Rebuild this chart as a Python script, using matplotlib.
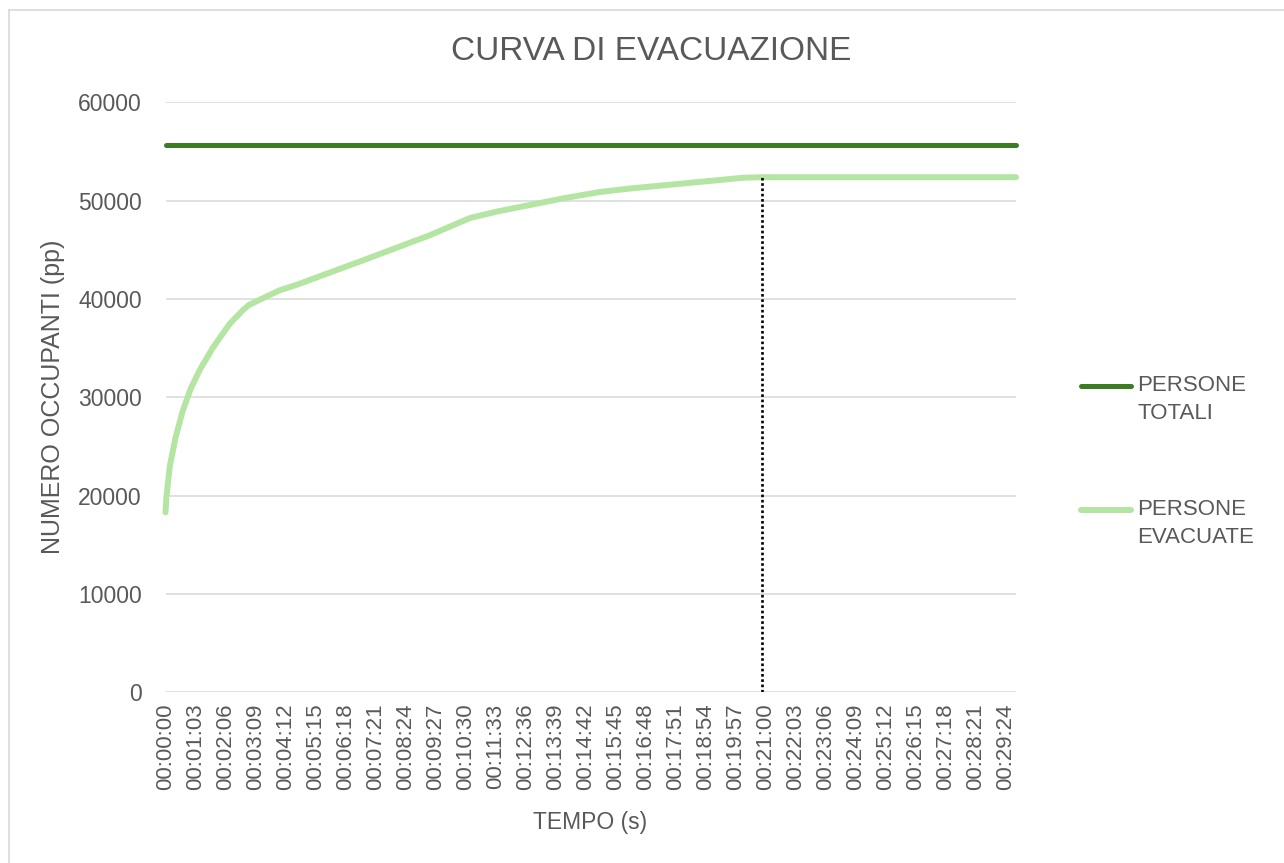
import matplotlib
matplotlib.use("Agg")
import matplotlib.pyplot as plt
from matplotlib.lines import Line2D

# evacuation curve, time in seconds
tempo_s = [0, 2, 9, 21, 36, 53, 72, 100, 135, 163, 175, 205, 240, 275,
           415, 555, 639, 695, 835, 912, 975, 1214, 1251, 1785]
persone_evacuate = [18300, 19900, 23000, 25900, 28600, 30900, 32800, 35100,
                    37500, 38900, 39400, 40100, 40900, 41450, 43950, 46500,
                    48250, 48900, 50250, 50900, 51250, 52350, 52400, 52400]
persone_totali = 55700
t_fine_evacuazione = 1251

tick_secondi = list(range(0, 1785, 63))
tick_labels = ["00:00:00", "00:01:03", "00:02:06", "00:03:09", "00:04:12",
               "00:05:15", "00:06:18", "00:07:21", "00:08:24", "00:09:27",
               "00:10:30", "00:11:33", "00:12:36", "00:13:39", "00:14:42",
               "00:15:45", "00:16:48", "00:17:51", "00:18:54", "00:19:57",
               "00:21:00", "00:22:03", "00:23:06", "00:24:09", "00:25:12",
               "00:26:15", "00:27:18", "00:28:21", "00:29:24"]

GRAY = "#595959"
DARK = "#3A7D22"
LIGHT = "#B4E5A2"

plt.rcParams["font.family"] = ["Liberation Sans", "DejaVu Sans"]

W, H = 1284, 863
fig = plt.figure(figsize=(W / 100, H / 100), dpi=100)
ax = fig.add_axes([165.5 / W, 1 - 692.3 / H, (1016 - 165.5) / W, (692.3 - 102.5) / H])

ax.plot([tempo_s[0], tempo_s[-1]], [persone_totali, persone_totali],
        color=DARK, lw=3.6, solid_capstyle="round", clip_on=False, zorder=3)
ax.plot(tempo_s, persone_evacuate, color=LIGHT, lw=4.3,
        solid_capstyle="round", solid_joinstyle="round", clip_on=False, zorder=3)
y_fine = persone_evacuate[tempo_s.index(t_fine_evacuazione)]
ax.vlines(t_fine_evacuazione, 0, y_fine, colors="black", linestyles=(0, (1, 1)),
          lw=1.9, zorder=4)

ax.set_xlim(0, tempo_s[-1])
ax.set_ylim(0, 60000)
ax.set_yticks(range(0, 60001, 10000))
ax.set_xticks(tick_secondi)
ax.set_xticklabels(tick_labels, rotation=90)
ax.grid(axis="y", color="#D9D9D9", lw=1.1)
ax.set_axisbelow(True)
for s in ax.spines.values():
    s.set_visible(False)
ax.tick_params(axis="both", length=0, labelsize=16, colors=GRAY)
ax.tick_params(axis="y", labelsize=16.5, pad=17)
ax.tick_params(axis="x", pad=8)

fig.text(651 / W, 1 - 52 / H, "CURVA DI EVACUAZIONE", ha="center", va="center",
         fontsize=24, color=GRAY)
fig.text(53 / W, 1 - 397 / H, "NUMERO OCCUPANTI (pp)", ha="center", va="center",
         rotation=90, fontsize=18, color=GRAY)
fig.text(590 / W, 1 - 822 / H, "TEMPO (s)", ha="center", va="center",
         fontsize=16.5, color=GRAY)

# legend on the right
for y, col, lw, label in [(386, DARK, 3.6, "PERSONE\nTOTALI"),
                          (510, LIGHT, 4.3, "PERSONE\nEVACUATE")]:
    fig.add_artist(Line2D([1081 / W, 1131 / W], [1 - y / H, 1 - y / H], color=col,
                          lw=lw, solid_capstyle="round"))
    fig.text(1137 / W, 1 - (y - 11) / H, label, ha="left", va="top",
             fontsize=16, color=GRAY, linespacing=1.45)

# chart border
fig.add_artist(Line2D([9 / W, 9 / W], [0, 1 - 10 / H], color="#D9D9D9", lw=1.2))
fig.add_artist(Line2D([9 / W, 1], [1 - 10 / H, 1 - 10 / H], color="#D9D9D9", lw=1.2))

fig.savefig("out.png", dpi=100)
